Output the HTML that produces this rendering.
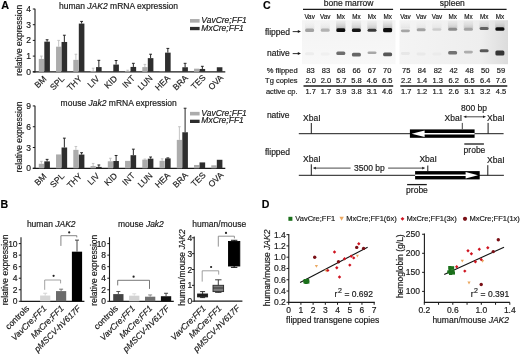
<!DOCTYPE html>
<html><head><meta charset="utf-8"><style>
html,body{margin:0;padding:0;background:#fff;}
body{width:520px;height:354px;overflow:hidden;}
svg{display:block;filter:blur(0.3px);font-family:"Liberation Sans",sans-serif;font-size:8.5px;fill:#1a1a1a;}
text{stroke:#1a1a1a;stroke-width:0.18px;}
</style></head><body>
<svg width="520" height="354" viewBox="0 0 520 354">
<rect width="520" height="354" fill="#fff"/>
<text x="1.3" y="9.4" font-size="10.8" fill="#000" font-weight="bold">A</text>
<text x="0.5" y="207.9" font-size="10.6" fill="#000" font-weight="bold">B</text>
<text x="262.9" y="8.95" font-size="10.6" fill="#000" font-weight="bold">C</text>
<text x="261.7" y="208" font-size="10.6" fill="#000" font-weight="bold">D</text>
<text x="59" y="9">human <tspan font-style="italic">JAK2</tspan> mRNA expression</text>
<line x1="35" y1="8.7" x2="35" y2="72.4" stroke="#1a1a1a" stroke-width="1.1"/>
<line x1="32.8" y1="71.8" x2="35" y2="71.8" stroke="#1a1a1a" stroke-width="1"/>
<text x="30.9" y="74.8" text-anchor="end">0</text>
<line x1="32.8" y1="56.1" x2="35" y2="56.1" stroke="#1a1a1a" stroke-width="1"/>
<text x="30.9" y="59.1" text-anchor="end">1</text>
<line x1="32.8" y1="40.4" x2="35" y2="40.4" stroke="#1a1a1a" stroke-width="1"/>
<text x="30.9" y="43.4" text-anchor="end">2</text>
<line x1="32.8" y1="24.7" x2="35" y2="24.7" stroke="#1a1a1a" stroke-width="1"/>
<text x="30.9" y="27.7" text-anchor="end">3</text>
<line x1="32.8" y1="9" x2="35" y2="9" stroke="#1a1a1a" stroke-width="1"/>
<text x="30.9" y="12" text-anchor="end">4</text>
<line x1="32.8" y1="71.8" x2="225.3" y2="71.8" stroke="#1a1a1a" stroke-width="1.2"/>
<text x="21.6" y="40.25" text-anchor="middle" transform="rotate(-90 21.6 40.25)">relative expression</text>
<rect x="38.8" y="58.93" width="5.2" height="12.87" fill="#acacac"/>
<line x1="41.4" y1="56.1" x2="41.4" y2="58.93" stroke="#bdbdbd" stroke-width="0.9"/>
<line x1="40.1" y1="56.1" x2="42.7" y2="56.1" stroke="#bdbdbd" stroke-width="0.9"/>
<rect x="44.3" y="41.66" width="5.6" height="30.14" fill="#2e2e2e"/>
<line x1="47.1" y1="39.77" x2="47.1" y2="41.66" stroke="#262626" stroke-width="1"/>
<line x1="45.7" y1="39.77" x2="48.5" y2="39.77" stroke="#262626" stroke-width="1"/>
<rect x="56.05" y="46.68" width="5.2" height="25.12" fill="#acacac"/>
<line x1="58.65" y1="40.4" x2="58.65" y2="46.68" stroke="#bdbdbd" stroke-width="0.9"/>
<line x1="57.35" y1="40.4" x2="59.95" y2="40.4" stroke="#bdbdbd" stroke-width="0.9"/>
<rect x="61.55" y="41.97" width="5.6" height="29.83" fill="#2e2e2e"/>
<line x1="64.35" y1="35.22" x2="64.35" y2="41.97" stroke="#262626" stroke-width="1"/>
<line x1="62.95" y1="35.22" x2="65.75" y2="35.22" stroke="#262626" stroke-width="1"/>
<rect x="73.3" y="59.87" width="5.2" height="11.93" fill="#acacac"/>
<line x1="75.9" y1="54.22" x2="75.9" y2="59.87" stroke="#bdbdbd" stroke-width="0.9"/>
<line x1="74.6" y1="54.22" x2="77.2" y2="54.22" stroke="#bdbdbd" stroke-width="0.9"/>
<rect x="78.8" y="23.6" width="5.6" height="48.2" fill="#2e2e2e"/>
<line x1="81.6" y1="21.4" x2="81.6" y2="23.6" stroke="#262626" stroke-width="1"/>
<line x1="80.2" y1="21.4" x2="83" y2="21.4" stroke="#262626" stroke-width="1"/>
<rect x="90.55" y="71.02" width="5.2" height="0.79" fill="#acacac"/>
<line x1="93.15" y1="68.19" x2="93.15" y2="71.02" stroke="#bdbdbd" stroke-width="0.9"/>
<line x1="91.85" y1="68.19" x2="94.45" y2="68.19" stroke="#bdbdbd" stroke-width="0.9"/>
<rect x="96.05" y="67.09" width="5.6" height="4.71" fill="#2e2e2e"/>
<line x1="98.85" y1="60.34" x2="98.85" y2="67.09" stroke="#262626" stroke-width="1"/>
<line x1="97.45" y1="60.34" x2="100.25" y2="60.34" stroke="#262626" stroke-width="1"/>
<rect x="113.3" y="64.58" width="5.6" height="7.22" fill="#2e2e2e"/>
<line x1="116.1" y1="60.5" x2="116.1" y2="64.58" stroke="#262626" stroke-width="1"/>
<line x1="114.7" y1="60.5" x2="117.5" y2="60.5" stroke="#262626" stroke-width="1"/>
<rect x="125.05" y="71.02" width="5.2" height="0.79" fill="#acacac"/>
<line x1="127.65" y1="70.23" x2="127.65" y2="71.02" stroke="#bdbdbd" stroke-width="0.9"/>
<line x1="126.35" y1="70.23" x2="128.95" y2="70.23" stroke="#bdbdbd" stroke-width="0.9"/>
<rect x="130.55" y="66.93" width="5.6" height="4.87" fill="#2e2e2e"/>
<line x1="133.35" y1="63.32" x2="133.35" y2="66.93" stroke="#262626" stroke-width="1"/>
<line x1="131.95" y1="63.32" x2="134.75" y2="63.32" stroke="#262626" stroke-width="1"/>
<rect x="142.3" y="67.09" width="5.2" height="4.71" fill="#acacac"/>
<line x1="144.9" y1="64.42" x2="144.9" y2="67.09" stroke="#bdbdbd" stroke-width="0.9"/>
<line x1="143.6" y1="64.42" x2="146.2" y2="64.42" stroke="#bdbdbd" stroke-width="0.9"/>
<rect x="147.8" y="58.14" width="5.6" height="13.66" fill="#2e2e2e"/>
<line x1="150.6" y1="54.22" x2="150.6" y2="58.14" stroke="#262626" stroke-width="1"/>
<line x1="149.2" y1="54.22" x2="152" y2="54.22" stroke="#262626" stroke-width="1"/>
<rect x="159.55" y="71.49" width="5.2" height="0.31" fill="#acacac"/>
<rect x="165.05" y="52.65" width="5.6" height="19.15" fill="#2e2e2e"/>
<line x1="167.85" y1="48.41" x2="167.85" y2="52.65" stroke="#262626" stroke-width="1"/>
<line x1="166.45" y1="48.41" x2="169.25" y2="48.41" stroke="#262626" stroke-width="1"/>
<rect x="182.3" y="67.25" width="5.6" height="4.55" fill="#2e2e2e"/>
<line x1="185.1" y1="63.32" x2="185.1" y2="67.25" stroke="#262626" stroke-width="1"/>
<line x1="183.7" y1="63.32" x2="186.5" y2="63.32" stroke="#262626" stroke-width="1"/>
<rect x="194.05" y="68.66" width="5.2" height="3.14" fill="#acacac"/>
<rect x="199.55" y="68.97" width="5.6" height="2.83" fill="#2e2e2e"/>
<line x1="202.35" y1="66.3" x2="202.35" y2="68.97" stroke="#262626" stroke-width="1"/>
<line x1="200.95" y1="66.3" x2="203.75" y2="66.3" stroke="#262626" stroke-width="1"/>
<rect x="216.8" y="67.25" width="5.6" height="4.55" fill="#2e2e2e"/>
<text x="47.1" y="79.6" text-anchor="end" transform="rotate(-45 47.1 79.6)">BM</text>
<text x="64.78" y="79.46" text-anchor="end" transform="rotate(-45 64.78 79.46)">SPL</text>
<text x="82.46" y="79.32" text-anchor="end" transform="rotate(-45 82.46 79.32)">THY</text>
<text x="100.14" y="79.18" text-anchor="end" transform="rotate(-45 100.14 79.18)">LIV</text>
<text x="117.82" y="79.04" text-anchor="end" transform="rotate(-45 117.82 79.04)">KID</text>
<text x="135.5" y="78.9" text-anchor="end" transform="rotate(-45 135.5 78.9)">INT</text>
<text x="153.18" y="78.76" text-anchor="end" transform="rotate(-45 153.18 78.76)">LUN</text>
<text x="170.86" y="78.62" text-anchor="end" transform="rotate(-45 170.86 78.62)">HEA</text>
<text x="188.54" y="78.48" text-anchor="end" transform="rotate(-45 188.54 78.48)">BRA</text>
<text x="206.22" y="78.34" text-anchor="end" transform="rotate(-45 206.22 78.34)">TES</text>
<text x="223.9" y="78.2" text-anchor="end" transform="rotate(-45 223.9 78.2)">OVA</text>
<rect x="190" y="19.05" width="9.6" height="3.6" fill="#acacac"/>
<rect x="190" y="26.9" width="9.6" height="3.3" fill="#2e2e2e"/>
<text x="201.3" y="22.8" font-style="italic">VavCre;FF1</text>
<text x="201.3" y="30.5" font-style="italic">MxCre;FF1</text>
<text x="60.6" y="105.8">mouse <tspan font-style="italic">Jak2</tspan> mRNA expression</text>
<line x1="35" y1="105.63" x2="35" y2="168.9" stroke="#1a1a1a" stroke-width="1.1"/>
<line x1="32.8" y1="168.3" x2="35" y2="168.3" stroke="#1a1a1a" stroke-width="1"/>
<text x="30.9" y="171.3" text-anchor="end">0</text>
<line x1="32.8" y1="147.51" x2="35" y2="147.51" stroke="#1a1a1a" stroke-width="1"/>
<text x="30.9" y="150.51" text-anchor="end">3</text>
<line x1="32.8" y1="126.72" x2="35" y2="126.72" stroke="#1a1a1a" stroke-width="1"/>
<text x="30.9" y="129.72" text-anchor="end">6</text>
<line x1="32.8" y1="105.93" x2="35" y2="105.93" stroke="#1a1a1a" stroke-width="1"/>
<text x="30.9" y="108.93" text-anchor="end">9</text>
<line x1="32.8" y1="168.3" x2="225.3" y2="168.3" stroke="#1a1a1a" stroke-width="1.2"/>
<text x="21.6" y="137" text-anchor="middle" transform="rotate(-90 21.6 137)">relative expression</text>
<rect x="38.8" y="163.8" width="5.2" height="4.5" fill="#acacac"/>
<line x1="41.4" y1="161.37" x2="41.4" y2="163.8" stroke="#bdbdbd" stroke-width="0.9"/>
<line x1="40.1" y1="161.37" x2="42.7" y2="161.37" stroke="#bdbdbd" stroke-width="0.9"/>
<rect x="44.3" y="161.37" width="5.6" height="6.93" fill="#2e2e2e"/>
<line x1="47.1" y1="159.36" x2="47.1" y2="161.37" stroke="#262626" stroke-width="1"/>
<line x1="45.7" y1="159.36" x2="48.5" y2="159.36" stroke="#262626" stroke-width="1"/>
<rect x="56.05" y="154.44" width="5.2" height="13.86" fill="#acacac"/>
<rect x="61.55" y="147.51" width="5.6" height="20.79" fill="#2e2e2e"/>
<line x1="64.35" y1="138.15" x2="64.35" y2="147.51" stroke="#262626" stroke-width="1"/>
<line x1="62.95" y1="138.15" x2="65.75" y2="138.15" stroke="#262626" stroke-width="1"/>
<rect x="73.3" y="149.87" width="5.2" height="18.43" fill="#acacac"/>
<line x1="75.9" y1="146.47" x2="75.9" y2="149.87" stroke="#bdbdbd" stroke-width="0.9"/>
<line x1="74.6" y1="146.47" x2="77.2" y2="146.47" stroke="#bdbdbd" stroke-width="0.9"/>
<rect x="78.8" y="154.58" width="5.6" height="13.72" fill="#2e2e2e"/>
<line x1="81.6" y1="152.71" x2="81.6" y2="154.58" stroke="#262626" stroke-width="1"/>
<line x1="80.2" y1="152.71" x2="83" y2="152.71" stroke="#262626" stroke-width="1"/>
<rect x="90.55" y="166.01" width="5.2" height="2.29" fill="#acacac"/>
<line x1="93.15" y1="163.45" x2="93.15" y2="166.01" stroke="#bdbdbd" stroke-width="0.9"/>
<line x1="91.85" y1="163.45" x2="94.45" y2="163.45" stroke="#bdbdbd" stroke-width="0.9"/>
<rect x="96.05" y="166.91" width="5.6" height="1.39" fill="#2e2e2e"/>
<line x1="98.85" y1="164.97" x2="98.85" y2="166.91" stroke="#262626" stroke-width="1"/>
<line x1="97.45" y1="164.97" x2="100.25" y2="164.97" stroke="#262626" stroke-width="1"/>
<rect x="107.8" y="161.3" width="5.2" height="7" fill="#acacac"/>
<line x1="110.4" y1="158.25" x2="110.4" y2="161.3" stroke="#bdbdbd" stroke-width="0.9"/>
<line x1="109.1" y1="158.25" x2="111.7" y2="158.25" stroke="#bdbdbd" stroke-width="0.9"/>
<rect x="113.3" y="161.02" width="5.6" height="7.28" fill="#2e2e2e"/>
<line x1="116.1" y1="155.48" x2="116.1" y2="161.02" stroke="#262626" stroke-width="1"/>
<line x1="114.7" y1="155.48" x2="117.5" y2="155.48" stroke="#262626" stroke-width="1"/>
<rect x="125.05" y="160.88" width="5.2" height="7.42" fill="#acacac"/>
<rect x="130.55" y="155.2" width="5.6" height="13.1" fill="#2e2e2e"/>
<line x1="133.35" y1="149.17" x2="133.35" y2="155.2" stroke="#262626" stroke-width="1"/>
<line x1="131.95" y1="149.17" x2="134.75" y2="149.17" stroke="#262626" stroke-width="1"/>
<rect x="142.3" y="159.64" width="5.2" height="8.66" fill="#acacac"/>
<line x1="144.9" y1="159.08" x2="144.9" y2="159.64" stroke="#bdbdbd" stroke-width="0.9"/>
<line x1="143.6" y1="159.08" x2="146.2" y2="159.08" stroke="#bdbdbd" stroke-width="0.9"/>
<rect x="147.8" y="158.67" width="5.6" height="9.63" fill="#2e2e2e"/>
<line x1="150.6" y1="157" x2="150.6" y2="158.67" stroke="#262626" stroke-width="1"/>
<line x1="149.2" y1="157" x2="152" y2="157" stroke="#262626" stroke-width="1"/>
<rect x="159.55" y="160.82" width="5.2" height="7.48" fill="#acacac"/>
<line x1="162.15" y1="158.81" x2="162.15" y2="160.82" stroke="#bdbdbd" stroke-width="0.9"/>
<line x1="160.85" y1="158.81" x2="163.45" y2="158.81" stroke="#bdbdbd" stroke-width="0.9"/>
<rect x="165.05" y="158.39" width="5.6" height="9.91" fill="#2e2e2e"/>
<line x1="167.85" y1="157.91" x2="167.85" y2="158.39" stroke="#262626" stroke-width="1"/>
<line x1="166.45" y1="157.91" x2="169.25" y2="157.91" stroke="#262626" stroke-width="1"/>
<rect x="176.8" y="139.89" width="5.2" height="28.41" fill="#acacac"/>
<line x1="179.4" y1="126.72" x2="179.4" y2="139.89" stroke="#bdbdbd" stroke-width="0.9"/>
<line x1="178.1" y1="126.72" x2="180.7" y2="126.72" stroke="#bdbdbd" stroke-width="0.9"/>
<rect x="182.3" y="132.26" width="5.6" height="36.04" fill="#2e2e2e"/>
<line x1="185.1" y1="108.22" x2="185.1" y2="132.26" stroke="#262626" stroke-width="1"/>
<line x1="183.7" y1="108.22" x2="186.5" y2="108.22" stroke="#262626" stroke-width="1"/>
<rect x="194.05" y="164.97" width="5.2" height="3.33" fill="#acacac"/>
<rect x="199.55" y="162.41" width="5.6" height="5.89" fill="#2e2e2e"/>
<rect x="211.3" y="165.32" width="5.2" height="2.98" fill="#acacac"/>
<rect x="216.8" y="159.78" width="5.6" height="8.52" fill="#2e2e2e"/>
<text x="47.1" y="176.9" text-anchor="end" transform="rotate(-45 47.1 176.9)">BM</text>
<text x="64.78" y="176.76" text-anchor="end" transform="rotate(-45 64.78 176.76)">SPL</text>
<text x="82.46" y="176.62" text-anchor="end" transform="rotate(-45 82.46 176.62)">THY</text>
<text x="100.14" y="176.48" text-anchor="end" transform="rotate(-45 100.14 176.48)">LIV</text>
<text x="117.82" y="176.34" text-anchor="end" transform="rotate(-45 117.82 176.34)">KID</text>
<text x="135.5" y="176.2" text-anchor="end" transform="rotate(-45 135.5 176.2)">INT</text>
<text x="153.18" y="176.06" text-anchor="end" transform="rotate(-45 153.18 176.06)">LUN</text>
<text x="170.86" y="175.92" text-anchor="end" transform="rotate(-45 170.86 175.92)">HEA</text>
<text x="188.54" y="175.78" text-anchor="end" transform="rotate(-45 188.54 175.78)">BRA</text>
<text x="206.22" y="175.64" text-anchor="end" transform="rotate(-45 206.22 175.64)">TES</text>
<text x="223.9" y="175.5" text-anchor="end" transform="rotate(-45 223.9 175.5)">OVA</text>
<rect x="190" y="111.85" width="9.6" height="3.6" fill="#acacac"/>
<rect x="190" y="119.7" width="9.6" height="3.3" fill="#2e2e2e"/>
<text x="201.3" y="115.6" font-style="italic">VavCre;FF1</text>
<text x="201.3" y="123.3" font-style="italic">MxCre;FF1</text>
<text x="26.9" y="227.2">human <tspan font-style="italic">JAK2</tspan></text>
<line x1="21" y1="237.23" x2="21" y2="301.9" stroke="#1a1a1a" stroke-width="1.1"/>
<line x1="18.8" y1="301.3" x2="21" y2="301.3" stroke="#1a1a1a" stroke-width="1"/>
<text x="17.6" y="304.3" text-anchor="end">0</text>
<line x1="18.8" y1="289.76" x2="21" y2="289.76" stroke="#1a1a1a" stroke-width="1"/>
<text x="17.6" y="292.76" text-anchor="end">2</text>
<line x1="18.8" y1="278.22" x2="21" y2="278.22" stroke="#1a1a1a" stroke-width="1"/>
<text x="17.6" y="281.22" text-anchor="end">4</text>
<line x1="18.8" y1="266.68" x2="21" y2="266.68" stroke="#1a1a1a" stroke-width="1"/>
<text x="17.6" y="269.68" text-anchor="end">6</text>
<line x1="18.8" y1="255.14" x2="21" y2="255.14" stroke="#1a1a1a" stroke-width="1"/>
<text x="17.6" y="258.14" text-anchor="end">8</text>
<line x1="18.8" y1="243.6" x2="21" y2="243.6" stroke="#1a1a1a" stroke-width="1"/>
<text x="17.6" y="246.6" text-anchor="end">10</text>
<line x1="21" y1="301.3" x2="84.4" y2="301.3" stroke="#1a1a1a" stroke-width="1.2"/>
<text x="7.9" y="269.9" text-anchor="middle" transform="rotate(-90 7.9 269.9)">relative expression</text>
<text x="118" y="227.2">mouse <tspan font-style="italic">Jak2</tspan></text>
<line x1="109.5" y1="237.23" x2="109.5" y2="301.9" stroke="#1a1a1a" stroke-width="1.1"/>
<line x1="107.3" y1="301.3" x2="109.5" y2="301.3" stroke="#1a1a1a" stroke-width="1"/>
<text x="106.1" y="304.3" text-anchor="end">0</text>
<line x1="107.3" y1="289.76" x2="109.5" y2="289.76" stroke="#1a1a1a" stroke-width="1"/>
<text x="106.1" y="292.76" text-anchor="end">2</text>
<line x1="107.3" y1="278.22" x2="109.5" y2="278.22" stroke="#1a1a1a" stroke-width="1"/>
<text x="106.1" y="281.22" text-anchor="end">4</text>
<line x1="107.3" y1="266.68" x2="109.5" y2="266.68" stroke="#1a1a1a" stroke-width="1"/>
<text x="106.1" y="269.68" text-anchor="end">6</text>
<line x1="107.3" y1="255.14" x2="109.5" y2="255.14" stroke="#1a1a1a" stroke-width="1"/>
<text x="106.1" y="258.14" text-anchor="end">8</text>
<line x1="107.3" y1="243.6" x2="109.5" y2="243.6" stroke="#1a1a1a" stroke-width="1"/>
<text x="106.1" y="246.6" text-anchor="end">10</text>
<line x1="109.5" y1="301.3" x2="173.8" y2="301.3" stroke="#1a1a1a" stroke-width="1.2"/>
<text x="96.6" y="270.2" text-anchor="middle" transform="rotate(-90 96.6 270.2)">relative expression</text>
<text x="192.3" y="226.8">human/mouse</text>
<line x1="194.2" y1="236.41" x2="194.2" y2="301.8" stroke="#1a1a1a" stroke-width="1.1"/>
<line x1="192" y1="301.2" x2="194.2" y2="301.2" stroke="#1a1a1a" stroke-width="1"/>
<text x="192.2" y="304.2" text-anchor="end">0</text>
<line x1="192" y1="285.35" x2="194.2" y2="285.35" stroke="#1a1a1a" stroke-width="1"/>
<text x="192.2" y="288.35" text-anchor="end">1</text>
<line x1="192" y1="269.5" x2="194.2" y2="269.5" stroke="#1a1a1a" stroke-width="1"/>
<text x="192.2" y="272.5" text-anchor="end">2</text>
<line x1="192" y1="253.65" x2="194.2" y2="253.65" stroke="#1a1a1a" stroke-width="1"/>
<text x="192.2" y="256.65" text-anchor="end">3</text>
<line x1="192" y1="237.8" x2="194.2" y2="237.8" stroke="#1a1a1a" stroke-width="1"/>
<text x="192.2" y="240.8" text-anchor="end">4</text>
<line x1="194.2" y1="301.2" x2="242.4" y2="301.2" stroke="#1a1a1a" stroke-width="1.2"/>
<text x="184.6" y="267.5" text-anchor="middle" transform="rotate(-90 184.6 267.5)">human/mouse <tspan font-style="italic">JAK2</tspan></text>
<rect x="40.1" y="295.53" width="10.2" height="5.77" fill="#d6d6d6"/>
<line x1="45.2" y1="293.22" x2="45.2" y2="295.53" stroke="#cfcfcf" stroke-width="0.9"/>
<line x1="43.2" y1="293.22" x2="47.2" y2="293.22" stroke="#cfcfcf" stroke-width="0.9"/>
<rect x="56" y="291.09" width="10.2" height="10.21" fill="#6b6b6b"/>
<line x1="61.1" y1="289.18" x2="61.1" y2="291.09" stroke="#6b6b6b" stroke-width="0.9"/>
<line x1="59.1" y1="289.18" x2="63.1" y2="289.18" stroke="#6b6b6b" stroke-width="0.9"/>
<rect x="71.9" y="251.68" width="10.2" height="49.62" fill="#000"/>
<line x1="77" y1="240.14" x2="77" y2="251.68" stroke="#333" stroke-width="0.9"/>
<line x1="75" y1="240.14" x2="79" y2="240.14" stroke="#333" stroke-width="0.9"/>
<rect x="113.2" y="294.09" width="10.3" height="7.21" fill="#444"/>
<line x1="118.35" y1="291.49" x2="118.35" y2="294.09" stroke="#444" stroke-width="0.9"/>
<line x1="116.35" y1="291.49" x2="120.35" y2="291.49" stroke="#444" stroke-width="0.9"/>
<rect x="129.1" y="295.7" width="10.3" height="5.6" fill="#d2d2d2"/>
<line x1="134.25" y1="293.8" x2="134.25" y2="295.7" stroke="#d8d8d8" stroke-width="0.9"/>
<line x1="132.25" y1="293.8" x2="136.25" y2="293.8" stroke="#d8d8d8" stroke-width="0.9"/>
<rect x="145" y="296.68" width="10.3" height="4.62" fill="#707070"/>
<line x1="150.15" y1="294.95" x2="150.15" y2="296.68" stroke="#808080" stroke-width="0.9"/>
<line x1="148.15" y1="294.95" x2="152.15" y2="294.95" stroke="#808080" stroke-width="0.9"/>
<rect x="160.9" y="296.22" width="10.3" height="5.08" fill="#111"/>
<line x1="166.05" y1="293.28" x2="166.05" y2="296.22" stroke="#333" stroke-width="0.9"/>
<line x1="164.05" y1="293.28" x2="168.05" y2="293.28" stroke="#333" stroke-width="0.9"/>
<polyline points="44.7,289.8 44.7,280 60.6,280 60.6,283.4" fill="none" stroke="#8a8a8a" stroke-width="0.8"/>
<circle cx="53.6" cy="275.8" r="1.1" fill="#222"/>
<polyline points="60.9,245.9 60.9,235.7 76.8,235.7 76.8,237.4" fill="none" stroke="#666" stroke-width="0.8"/>
<circle cx="69.2" cy="232.4" r="1.1" fill="#222"/>
<polyline points="117.7,285.4 117.7,280.3 149.5,280.3 149.5,288.9" fill="none" stroke="#555" stroke-width="0.8"/>
<circle cx="133.6" cy="276.7" r="1.1" fill="#222"/>
<polyline points="202.2,281.6 202.2,270.8 218.7,270.8 218.7,274.6" fill="none" stroke="#888" stroke-width="0.8"/>
<circle cx="211.1" cy="267" r="1.1" fill="#222"/>
<polyline points="218.3,246.6 218.3,236.2 234.4,236.2 234.4,238.4" fill="none" stroke="#777" stroke-width="0.8"/>
<circle cx="226" cy="232.9" r="1.1" fill="#222"/>
<line x1="202.6" y1="291.6" x2="202.6" y2="294" stroke="#1e1e1e" stroke-width="0.9"/>
<line x1="202.6" y1="296.9" x2="202.6" y2="297.6" stroke="#1e1e1e" stroke-width="0.9"/>
<line x1="200.1" y1="291.6" x2="205.1" y2="291.6" stroke="#1e1e1e" stroke-width="0.9"/>
<line x1="200.1" y1="297.6" x2="205.1" y2="297.6" stroke="#1e1e1e" stroke-width="0.9"/>
<rect x="197.6" y="294" width="10" height="2.9" fill="#1e1e1e" stroke="#1e1e1e" stroke-width="0.9"/>
<line x1="218.3" y1="279.8" x2="218.3" y2="285.3" stroke="#2a2a2a" stroke-width="0.9"/>
<line x1="218.3" y1="291.6" x2="218.3" y2="292.4" stroke="#2a2a2a" stroke-width="0.9"/>
<line x1="215.1" y1="279.8" x2="221.5" y2="279.8" stroke="#2a2a2a" stroke-width="0.9"/>
<line x1="215.1" y1="292.4" x2="221.5" y2="292.4" stroke="#2a2a2a" stroke-width="0.9"/>
<rect x="213" y="285.3" width="10.6" height="6.3" fill="#7c7c7c" stroke="#2a2a2a" stroke-width="0.9"/>
<line x1="213" y1="288" x2="223.6" y2="288" stroke="#2a2a2a" stroke-width="0.9"/>
<line x1="234.15" y1="240.3" x2="234.15" y2="241.5" stroke="#000" stroke-width="0.9"/>
<line x1="234.15" y1="266" x2="234.15" y2="267.4" stroke="#000" stroke-width="0.9"/>
<line x1="230.95" y1="240.3" x2="237.35" y2="240.3" stroke="#000" stroke-width="0.9"/>
<line x1="230.95" y1="267.4" x2="237.35" y2="267.4" stroke="#000" stroke-width="0.9"/>
<rect x="228.5" y="241.5" width="11.3" height="24.5" fill="#000" stroke="#000" stroke-width="0.9"/>
<text x="29.8" y="309" text-anchor="end" transform="rotate(-45 29.8 309)">controls</text>
<text x="47" y="309" text-anchor="end" font-style="italic" transform="rotate(-45 47 309)">VavCre;FF1</text>
<text x="64.3" y="309" text-anchor="end" font-style="italic" transform="rotate(-45 64.3 309)">MxCre;FF1</text>
<text x="81.3" y="309" text-anchor="end" font-style="italic" transform="rotate(-45 81.3 309)">pMSCV-hV617F</text>
<text x="118.4" y="309" text-anchor="end" transform="rotate(-45 118.4 309)">controls</text>
<text x="135.6" y="309" text-anchor="end" font-style="italic" transform="rotate(-45 135.6 309)">VavCre;FF1</text>
<text x="152.9" y="309" text-anchor="end" font-style="italic" transform="rotate(-45 152.9 309)">MxCre;FF1</text>
<text x="169.9" y="309" text-anchor="end" font-style="italic" transform="rotate(-45 169.9 309)">pMSCV-hV617F</text>
<text x="206.4" y="308.8" text-anchor="end" font-style="italic" transform="rotate(-45 206.4 308.8)">VavCre;FF1</text>
<text x="222.2" y="308.8" text-anchor="end" font-style="italic" transform="rotate(-45 222.2 308.8)">MxCre;FF1</text>
<text x="240.4" y="308.8" text-anchor="end" font-style="italic" transform="rotate(-45 240.4 308.8)">pMSCV-hV617F</text>
<defs><linearGradient id="gbm" x1="0" y1="0" x2="0" y2="1"><stop offset="0" stop-color="#f4f4f4"/><stop offset="1" stop-color="#f8f8f8"/></linearGradient><linearGradient id="gsp" x1="0" y1="0" x2="1" y2="0"><stop offset="0" stop-color="#f4f4f4"/><stop offset="0.75" stop-color="#eeeeee"/><stop offset="1" stop-color="#dcdcdc"/></linearGradient><filter id="bl" x="-50%" y="-50%" width="200%" height="200%"><feGaussianBlur stdDeviation="0.7"/></filter><linearGradient id="smL" x1="0" y1="0" x2="0" y2="1"><stop offset="0" stop-color="#eee" stop-opacity="0"/><stop offset="1" stop-color="#e4e4e4"/></linearGradient><linearGradient id="smM" x1="0" y1="0" x2="0" y2="1"><stop offset="0" stop-color="#ddd" stop-opacity="0.2"/><stop offset="1" stop-color="#c6c6c6"/></linearGradient><linearGradient id="smD" x1="0" y1="0" x2="0" y2="1"><stop offset="0" stop-color="#ddd" stop-opacity="0.3"/><stop offset="1" stop-color="#b4b4b4"/></linearGradient><filter id="bl2" x="-50%" y="-50%" width="200%" height="200%"><feGaussianBlur stdDeviation="1.4"/></filter></defs>
<rect x="302" y="20.2" width="93.5" height="44" fill="url(#gbm)"/>
<rect x="399.5" y="20.2" width="108.5" height="44" fill="url(#gsp)"/>
<text x="323.75" y="6">bone marrow</text>
<text x="439.8" y="6">spleen</text>
<line x1="303" y1="9.4" x2="393.1" y2="9.4" stroke="#1a1a1a" stroke-width="1.2"/>
<line x1="400" y1="9.4" x2="506.6" y2="9.4" stroke="#1a1a1a" stroke-width="1.2"/>
<text x="309.6" y="18.8" text-anchor="middle" font-size="6.3">Vav</text>
<text x="325.2" y="18.8" text-anchor="middle" font-size="6.3">Vav</text>
<text x="340.8" y="18.8" text-anchor="middle" font-size="6.3">Mx</text>
<text x="356.4" y="18.8" text-anchor="middle" font-size="6.3">Mx</text>
<text x="372" y="18.8" text-anchor="middle" font-size="6.3">Mx</text>
<text x="387.6" y="18.8" text-anchor="middle" font-size="6.3">Mx</text>
<text x="405.4" y="18.8" text-anchor="middle" font-size="6.3">Vav</text>
<text x="421.15" y="18.8" text-anchor="middle" font-size="6.3">Vav</text>
<text x="436.9" y="18.8" text-anchor="middle" font-size="6.3">Vav</text>
<text x="452.65" y="18.8" text-anchor="middle" font-size="6.3">Mx</text>
<text x="468.4" y="18.8" text-anchor="middle" font-size="6.3">Mx</text>
<text x="484.15" y="18.8" text-anchor="middle" font-size="6.3">Mx</text>
<text x="499.9" y="18.8" text-anchor="middle" font-size="6.3">Mx</text>
<rect x="304.9" y="20.4" width="9.4" height="8.6" fill="url(#smL)" filter="url(#bl)"/>
<rect x="320.5" y="20.4" width="9.4" height="8.6" fill="url(#smL)" filter="url(#bl)"/>
<rect x="336.1" y="20.4" width="9.4" height="8.6" fill="url(#smD)" filter="url(#bl)"/>
<rect x="351.7" y="20.4" width="9.4" height="8.6" fill="url(#smM)" filter="url(#bl)"/>
<rect x="367.3" y="20.4" width="9.4" height="8.6" fill="url(#smM)" filter="url(#bl)"/>
<rect x="382.9" y="20.4" width="9.4" height="8.6" fill="url(#smD)" filter="url(#bl)"/>
<rect x="400.7" y="20.4" width="9.4" height="8.1" fill="url(#smL)" filter="url(#bl)"/>
<rect x="416.45" y="20.4" width="9.4" height="8.1" fill="url(#smL)" filter="url(#bl)"/>
<rect x="432.2" y="20.4" width="9.4" height="8.1" fill="url(#smL)" filter="url(#bl)"/>
<rect x="447.95" y="20.4" width="9.4" height="8.1" fill="url(#smM)" filter="url(#bl)"/>
<rect x="463.7" y="20.4" width="9.4" height="8.1" fill="url(#smM)" filter="url(#bl)"/>
<rect x="479.45" y="20.4" width="9.4" height="8.1" fill="url(#smM)" filter="url(#bl)"/>
<rect x="495.2" y="20.4" width="9.4" height="8.1" fill="url(#smD)" filter="url(#bl)"/>
<rect x="305.1" y="28.5" width="9" height="3.4" rx="1.5" fill="#a2a2a2" filter="url(#bl)"/>
<rect x="320.7" y="28.6" width="9" height="3.2" rx="1.5" fill="#b2b2b2" filter="url(#bl)"/>
<rect x="336.3" y="28.3" width="9" height="3.8" rx="1.5" fill="#0e0e0e" filter="url(#bl)"/>
<rect x="351.9" y="28.5" width="9" height="3.4" rx="1.5" fill="#161616" filter="url(#bl)"/>
<rect x="367.5" y="28.7" width="9" height="3" rx="1.5" fill="#383838" filter="url(#bl)"/>
<rect x="383.1" y="28.1" width="9" height="4.2" rx="1.5" fill="#080808" filter="url(#bl)"/>
<rect x="305.1" y="52.3" width="9" height="3" rx="1.5" fill="#ededed" filter="url(#bl)"/>
<rect x="320.7" y="52.5" width="9" height="3" rx="1.5" fill="#f0f0f0" filter="url(#bl)"/>
<rect x="336.3" y="51.4" width="9" height="3.6" rx="1.5" fill="#6e6e6e" filter="url(#bl)"/>
<rect x="351.9" y="52.8" width="9" height="3.6" rx="1.5" fill="#666666" filter="url(#bl)"/>
<rect x="367.5" y="51.4" width="9" height="2.6" rx="1.5" fill="#a8a8a8" filter="url(#bl)"/>
<rect x="383.1" y="52.4" width="9" height="3.8" rx="1.5" fill="#595959" filter="url(#bl)"/>
<rect x="400.9" y="29.4" width="9" height="2.8" rx="1.5" fill="#a6a6a6" filter="url(#bl)"/>
<rect x="416.65" y="28.3" width="9" height="3" rx="1.5" fill="#a2a2a2" filter="url(#bl)"/>
<rect x="432.4" y="28.2" width="9" height="2.6" rx="1.5" fill="#cdcdcd" filter="url(#bl)"/>
<rect x="448.15" y="27.7" width="9" height="3" rx="1.5" fill="#8c8c8c" filter="url(#bl)"/>
<rect x="463.9" y="27.8" width="9" height="3" rx="1.5" fill="#a4a4a4" filter="url(#bl)"/>
<rect x="479.65" y="27.1" width="9" height="3" rx="1.5" fill="#626262" filter="url(#bl)"/>
<rect x="495.4" y="27.2" width="9" height="3.6" rx="1.5" fill="#0c0c0c" filter="url(#bl)"/>
<rect x="400.9" y="52.1" width="9" height="2.8" rx="1.5" fill="#e7e7e7" filter="url(#bl)"/>
<rect x="416.65" y="52.6" width="9" height="2.8" rx="1.5" fill="#e9e9e9" filter="url(#bl)"/>
<rect x="432.4" y="52.6" width="9" height="2.8" rx="1.5" fill="#ebebeb" filter="url(#bl)"/>
<rect x="448.15" y="51" width="9" height="3.4" rx="1.5" fill="#737373" filter="url(#bl)"/>
<rect x="463.9" y="50.7" width="9" height="2.8" rx="1.5" fill="#adadad" filter="url(#bl)"/>
<rect x="479.65" y="49.3" width="9" height="3" rx="1.5" fill="#585858" filter="url(#bl)"/>
<rect x="495.4" y="50.6" width="9" height="4.8" rx="1.5" fill="#353535" filter="url(#bl)"/>
<text x="264.9" y="35">flipped</text>
<text x="267.1" y="56.1">native</text>
<line x1="292.7" y1="31.6" x2="298.3" y2="31.6" stroke="#1a1a1a" stroke-width="0.9"/>
<polygon points="301,31.6 297.8,30.1 297.8,33.1" fill="#1a1a1a"/>
<line x1="292.7" y1="53.6" x2="298.3" y2="53.6" stroke="#1a1a1a" stroke-width="0.9"/>
<polygon points="301,53.6 297.8,52.1 297.8,55.1" fill="#1a1a1a"/>
<text x="297.6" y="73" text-anchor="end" font-size="7.5">% flipped</text>
<text x="297.6" y="83.3" text-anchor="end" font-size="7.5">Tg copies</text>
<text x="297.6" y="93.5" text-anchor="end" font-size="7.5">active cp.</text>
<text x="310.6" y="73" text-anchor="middle" font-size="7.5">83</text>
<text x="310.6" y="83.3" text-anchor="middle" font-size="7.5">2.0</text>
<text x="310.6" y="93.5" text-anchor="middle" font-size="7.5">1.7</text>
<text x="325.93" y="73" text-anchor="middle" font-size="7.5">83</text>
<text x="325.93" y="83.3" text-anchor="middle" font-size="7.5">2.0</text>
<text x="325.93" y="93.5" text-anchor="middle" font-size="7.5">1.7</text>
<text x="341.26" y="73" text-anchor="middle" font-size="7.5">68</text>
<text x="341.26" y="83.3" text-anchor="middle" font-size="7.5">5.7</text>
<text x="341.26" y="93.5" text-anchor="middle" font-size="7.5">3.9</text>
<text x="356.59" y="73" text-anchor="middle" font-size="7.5">66</text>
<text x="356.59" y="83.3" text-anchor="middle" font-size="7.5">5.8</text>
<text x="356.59" y="93.5" text-anchor="middle" font-size="7.5">3.8</text>
<text x="371.92" y="73" text-anchor="middle" font-size="7.5">67</text>
<text x="371.92" y="83.3" text-anchor="middle" font-size="7.5">4.6</text>
<text x="371.92" y="93.5" text-anchor="middle" font-size="7.5">3.1</text>
<text x="387.25" y="73" text-anchor="middle" font-size="7.5">70</text>
<text x="387.25" y="83.3" text-anchor="middle" font-size="7.5">6.5</text>
<text x="387.25" y="93.5" text-anchor="middle" font-size="7.5">4.6</text>
<text x="406.2" y="73" text-anchor="middle" font-size="7.5">75</text>
<text x="406.2" y="83.3" text-anchor="middle" font-size="7.5">2.2</text>
<text x="406.2" y="93.5" text-anchor="middle" font-size="7.5">1.7</text>
<text x="422" y="73" text-anchor="middle" font-size="7.5">84</text>
<text x="422" y="83.3" text-anchor="middle" font-size="7.5">1.4</text>
<text x="422" y="93.5" text-anchor="middle" font-size="7.5">1.2</text>
<text x="437.8" y="73" text-anchor="middle" font-size="7.5">82</text>
<text x="437.8" y="83.3" text-anchor="middle" font-size="7.5">1.3</text>
<text x="437.8" y="93.5" text-anchor="middle" font-size="7.5">1.1</text>
<text x="453.6" y="73" text-anchor="middle" font-size="7.5">42</text>
<text x="453.6" y="83.3" text-anchor="middle" font-size="7.5">6.2</text>
<text x="453.6" y="93.5" text-anchor="middle" font-size="7.5">2.6</text>
<text x="469.4" y="73" text-anchor="middle" font-size="7.5">48</text>
<text x="469.4" y="83.3" text-anchor="middle" font-size="7.5">6.5</text>
<text x="469.4" y="93.5" text-anchor="middle" font-size="7.5">3.1</text>
<text x="485.2" y="73" text-anchor="middle" font-size="7.5">50</text>
<text x="485.2" y="83.3" text-anchor="middle" font-size="7.5">6.4</text>
<text x="485.2" y="93.5" text-anchor="middle" font-size="7.5">3.2</text>
<text x="501" y="73" text-anchor="middle" font-size="7.5">59</text>
<text x="501" y="83.3" text-anchor="middle" font-size="7.5">7.6</text>
<text x="501" y="93.5" text-anchor="middle" font-size="7.5">4.5</text>
<line x1="303.5" y1="86" x2="393.2" y2="86" stroke="#1a1a1a" stroke-width="1.3"/>
<line x1="400.3" y1="86" x2="507.3" y2="86" stroke="#1a1a1a" stroke-width="1.3"/>
<text x="266.9" y="118.1">native</text>
<text x="303.1" y="121.3">XbaI</text>
<line x1="311.3" y1="123" x2="311.3" y2="133.7" stroke="#1a1a1a" stroke-width="1"/>
<line x1="298.8" y1="133.7" x2="503.6" y2="133.7" stroke="#1a1a1a" stroke-width="1"/>
<rect x="409.9" y="129.4" width="64.7" height="8.4" fill="#000"/>
<line x1="424" y1="133.7" x2="474.6" y2="133.7" stroke="#fff" stroke-width="1.5"/>
<polygon points="411.6,133.7 424.6,130.5 424.6,136.9" fill="#fff"/>
<line x1="462.3" y1="122.9" x2="462.3" y2="129.4" stroke="#444" stroke-width="1"/>
<line x1="488.1" y1="122.9" x2="488.1" y2="133.7" stroke="#1a1a1a" stroke-width="1"/>
<text x="444.6" y="121">XbaI</text>
<text x="487.1" y="121">XbaI</text>
<text x="461" y="111.3">800 bp</text>
<line x1="465.5" y1="116.8" x2="483.8" y2="116.8" stroke="#1a1a1a" stroke-width="0.8"/>
<polygon points="463.3,116.8 466.3,115.5 466.3,118.1" fill="#1a1a1a"/>
<polygon points="486.0,116.8 483.0,115.5 483.0,118.1" fill="#1a1a1a"/>
<line x1="464.3" y1="144" x2="483.9" y2="144" stroke="#1a1a1a" stroke-width="1.3"/>
<text x="463.6" y="152.9">probe</text>
<text x="265" y="154.9">flipped</text>
<text x="303.1" y="162.1">XbaI</text>
<line x1="311.3" y1="164.3" x2="311.3" y2="175.3" stroke="#1a1a1a" stroke-width="1"/>
<line x1="298.8" y1="175.3" x2="503.9" y2="175.3" stroke="#1a1a1a" stroke-width="1"/>
<line x1="315.3" y1="168.1" x2="350.6" y2="168.1" stroke="#1a1a1a" stroke-width="0.8"/>
<polygon points="312.8,168.1 315.8,166.8 315.8,169.4" fill="#1a1a1a"/>
<text x="354" y="170.7">3500 bp</text>
<line x1="388.1" y1="168.1" x2="422.7" y2="168.1" stroke="#1a1a1a" stroke-width="0.8"/>
<polygon points="425.2,168.1 422.2,166.8 422.2,169.4" fill="#1a1a1a"/>
<text x="419.4" y="162.4">XbaI</text>
<line x1="427.8" y1="165.5" x2="427.8" y2="171.2" stroke="#1a1a1a" stroke-width="1"/>
<rect x="415.1" y="171.1" width="64.6" height="8.3" fill="#000"/>
<line x1="415.1" y1="175.3" x2="466" y2="175.3" stroke="#fff" stroke-width="1.5"/>
<polygon points="478.0,175.3 465.6,172.0 465.6,178.6" fill="#fff"/>
<line x1="487.8" y1="165.2" x2="487.8" y2="175.3" stroke="#1a1a1a" stroke-width="1"/>
<text x="487.1" y="162.5">XbaI</text>
<line x1="407.1" y1="184.6" x2="426.8" y2="184.6" stroke="#1a1a1a" stroke-width="1.3"/>
<text x="406.1" y="193">probe</text>
<rect x="288.4" y="216.8" width="4" height="4" fill="#1b701b"/>
<text x="295.3" y="221.3" font-size="7.5">VavCre;FF1</text>
<polygon points="339.4,216.84 343.8,216.84 341.6,220.8" fill="#eba861"/>
<text x="346.3" y="221.3" font-size="7.5">MxCre;FF1(6x)</text>
<polygon points="402.5,216.9 404.4,218.8 402.5,220.7 400.6,218.8" fill="#cf1420"/>
<text x="406.4" y="221.3" font-size="7.5">MxCre;FF1(3x)</text>
<circle cx="465" cy="218.8" r="2.1" fill="#7a1016"/>
<text x="469.4" y="221.3" font-size="7.5">MxCre;FF1(1x)</text>
<line x1="288.8" y1="234" x2="288.8" y2="303" stroke="#1a1a1a" stroke-width="1.1"/>
<line x1="286.5" y1="302.3" x2="288.8" y2="302.3" stroke="#1a1a1a" stroke-width="1"/>
<text x="285.8" y="305.3" text-anchor="end">0.2</text>
<line x1="286.5" y1="291.02" x2="288.8" y2="291.02" stroke="#1a1a1a" stroke-width="1"/>
<text x="285.8" y="294.02" text-anchor="end">0.4</text>
<line x1="286.5" y1="279.74" x2="288.8" y2="279.74" stroke="#1a1a1a" stroke-width="1"/>
<text x="285.8" y="282.74" text-anchor="end">0.6</text>
<line x1="286.5" y1="268.46" x2="288.8" y2="268.46" stroke="#1a1a1a" stroke-width="1"/>
<text x="285.8" y="271.46" text-anchor="end">0.8</text>
<line x1="286.5" y1="257.18" x2="288.8" y2="257.18" stroke="#1a1a1a" stroke-width="1"/>
<text x="285.8" y="260.18" text-anchor="end">1.0</text>
<line x1="286.5" y1="245.9" x2="288.8" y2="245.9" stroke="#1a1a1a" stroke-width="1"/>
<text x="285.8" y="248.9" text-anchor="end">1.2</text>
<line x1="286.5" y1="234.62" x2="288.8" y2="234.62" stroke="#1a1a1a" stroke-width="1"/>
<text x="285.8" y="237.62" text-anchor="end">1.4</text>
<line x1="288.8" y1="302.4" x2="374.8" y2="302.4" stroke="#1a1a1a" stroke-width="1.2"/>
<line x1="288.7" y1="302.4" x2="288.7" y2="304.8" stroke="#1a1a1a" stroke-width="1"/>
<text x="288.7" y="313.1" text-anchor="middle">0</text>
<line x1="300.91" y1="302.4" x2="300.91" y2="304.8" stroke="#1a1a1a" stroke-width="1"/>
<text x="300.91" y="313.1" text-anchor="middle">1</text>
<line x1="313.12" y1="302.4" x2="313.12" y2="304.8" stroke="#1a1a1a" stroke-width="1"/>
<text x="313.12" y="313.1" text-anchor="middle">2</text>
<line x1="325.33" y1="302.4" x2="325.33" y2="304.8" stroke="#1a1a1a" stroke-width="1"/>
<text x="325.33" y="313.1" text-anchor="middle">3</text>
<line x1="337.54" y1="302.4" x2="337.54" y2="304.8" stroke="#1a1a1a" stroke-width="1"/>
<text x="337.54" y="313.1" text-anchor="middle">4</text>
<line x1="349.75" y1="302.4" x2="349.75" y2="304.8" stroke="#1a1a1a" stroke-width="1"/>
<text x="349.75" y="313.1" text-anchor="middle">5</text>
<line x1="361.96" y1="302.4" x2="361.96" y2="304.8" stroke="#1a1a1a" stroke-width="1"/>
<text x="361.96" y="313.1" text-anchor="middle">6</text>
<line x1="374.17" y1="302.4" x2="374.17" y2="304.8" stroke="#1a1a1a" stroke-width="1"/>
<text x="374.17" y="313.1" text-anchor="middle">7</text>
<text x="332.7" y="322.8" text-anchor="middle" font-size="8.6">flipped transgene copies</text>
<text x="270.3" y="267.9" text-anchor="middle" transform="rotate(-90 270.3 267.9)">human/mouse <tspan font-style="italic">JAK2</tspan></text>
<text x="334.6" y="297.3">r</text>
<text x="337.9" y="293" font-size="7">2</text>
<text x="344.4" y="297.3">= 0.692</text>
<line x1="300.1" y1="282.4" x2="367.6" y2="247.2" stroke="#111" stroke-width="1.1"/>
<rect x="303.6" y="279" width="3.2" height="3.2" fill="#1b701b"/>
<rect x="305" y="280" width="3.2" height="3.2" fill="#1b701b"/>
<rect x="306" y="278.8" width="3.2" height="3.2" fill="#1b701b"/>
<rect x="304.4" y="280.8" width="3.2" height="3.2" fill="#1b701b"/>
<rect x="303.4" y="280.2" width="3.2" height="3.2" fill="#1b701b"/>
<rect x="306.2" y="280.4" width="3.2" height="3.2" fill="#1b701b"/>
<polygon points="314.8,264.92 318,264.92 316.4,267.8" fill="#eba861"/>
<polygon points="324.6,269.52 327.8,269.52 326.2,272.4" fill="#eba861"/>
<polygon points="355.9,254.8 358.9,254.8 357.4,257.5" fill="#eba861"/>
<polygon points="334.5,250.3 336.2,252 334.5,253.7 332.8,252" fill="#cf1420"/>
<polygon points="327.8,268.7 329.5,270.4 327.8,272.1 326.1,270.4" fill="#cf1420"/>
<polygon points="336.8,266.1 338.5,267.8 336.8,269.5 335.1,267.8" fill="#cf1420"/>
<polygon points="339.5,275.3 341.2,277 339.5,278.7 337.8,277" fill="#cf1420"/>
<polygon points="344.6,257 346.3,258.7 344.6,260.4 342.9,258.7" fill="#cf1420"/>
<polygon points="349.8,263.4 351.5,265.1 349.8,266.8 348.1,265.1" fill="#cf1420"/>
<polygon points="351.2,254.5 352.9,256.2 351.2,257.9 349.5,256.2" fill="#cf1420"/>
<polygon points="353.7,256.2 355.4,257.9 353.7,259.6 352,257.9" fill="#cf1420"/>
<polygon points="358.8,242.1 360.5,243.8 358.8,245.5 357.1,243.8" fill="#cf1420"/>
<circle cx="314.7" cy="257.2" r="1.7" fill="#7a1016"/>
<circle cx="338.5" cy="261.8" r="1.7" fill="#7a1016"/>
<circle cx="356.7" cy="247.4" r="1.7" fill="#7a1016"/>
<circle cx="363.6" cy="248.4" r="1.7" fill="#7a1016"/>
<line x1="424.4" y1="233.6" x2="424.4" y2="303" stroke="#1a1a1a" stroke-width="1.1"/>
<line x1="422.1" y1="291.4" x2="424.4" y2="291.4" stroke="#1a1a1a" stroke-width="1"/>
<text x="420" y="294.4" text-anchor="end">100</text>
<line x1="422.1" y1="272.35" x2="424.4" y2="272.35" stroke="#1a1a1a" stroke-width="1"/>
<text x="420" y="275.35" text-anchor="end">150</text>
<line x1="422.1" y1="253.3" x2="424.4" y2="253.3" stroke="#1a1a1a" stroke-width="1"/>
<text x="420" y="256.3" text-anchor="end">200</text>
<line x1="422.1" y1="234.25" x2="424.4" y2="234.25" stroke="#1a1a1a" stroke-width="1"/>
<text x="420" y="237.25" text-anchor="end">250</text>
<line x1="424.4" y1="302.4" x2="509.9" y2="302.4" stroke="#1a1a1a" stroke-width="1.2"/>
<line x1="424.3" y1="302.4" x2="424.3" y2="304.8" stroke="#1a1a1a" stroke-width="1"/>
<text x="424.3" y="313.1" text-anchor="middle">0.2</text>
<line x1="438.55" y1="302.4" x2="438.55" y2="304.8" stroke="#1a1a1a" stroke-width="1"/>
<line x1="452.8" y1="302.4" x2="452.8" y2="304.8" stroke="#1a1a1a" stroke-width="1"/>
<text x="452.8" y="313.1" text-anchor="middle">0.6</text>
<line x1="467.05" y1="302.4" x2="467.05" y2="304.8" stroke="#1a1a1a" stroke-width="1"/>
<line x1="481.3" y1="302.4" x2="481.3" y2="304.8" stroke="#1a1a1a" stroke-width="1"/>
<text x="481.3" y="313.1" text-anchor="middle">1.0</text>
<line x1="495.55" y1="302.4" x2="495.55" y2="304.8" stroke="#1a1a1a" stroke-width="1"/>
<line x1="509.8" y1="302.4" x2="509.8" y2="304.8" stroke="#1a1a1a" stroke-width="1"/>
<text x="509.8" y="313.1" text-anchor="middle">1.4</text>
<text x="432.4" y="322.6">human/mouse <tspan font-style="italic">JAK2</tspan></text>
<text x="403.2" y="266.2" text-anchor="middle" transform="rotate(-90 403.2 266.2)">hemoglobin (g/L)</text>
<text x="470.8" y="297">r</text>
<text x="474.1" y="292.7" font-size="7">2</text>
<text x="480.6" y="297">= 0.391</text>
<line x1="444.2" y1="274.4" x2="504" y2="247.2" stroke="#111" stroke-width="1.1"/>
<rect x="448.2" y="266" width="3.2" height="3.2" fill="#1b701b"/>
<rect x="451" y="266.2" width="3.2" height="3.2" fill="#1b701b"/>
<rect x="448.4" y="269" width="3.2" height="3.2" fill="#1b701b"/>
<rect x="451.2" y="269.2" width="3.2" height="3.2" fill="#1b701b"/>
<rect x="449" y="271.8" width="3.2" height="3.2" fill="#1b701b"/>
<rect x="451.8" y="271.4" width="3.2" height="3.2" fill="#1b701b"/>
<rect x="447.2" y="270.4" width="3.2" height="3.2" fill="#1b701b"/>
<polygon points="460.7,259.72 463.9,259.72 462.3,262.6" fill="#eba861"/>
<polygon points="467.4,281.52 470.6,281.52 469,284.4" fill="#eba861"/>
<polygon points="481,259.92 484.2,259.92 482.6,262.8" fill="#eba861"/>
<polygon points="468,249 469.7,250.7 468,252.4 466.3,250.7" fill="#cf1420"/>
<polygon points="471.4,252.1 473.1,253.8 471.4,255.5 469.7,253.8" fill="#cf1420"/>
<polygon points="479.3,247.5 481,249.2 479.3,250.9 477.6,249.2" fill="#cf1420"/>
<polygon points="487.8,246 489.5,247.7 487.8,249.4 486.1,247.7" fill="#cf1420"/>
<polygon points="475.4,260 477.1,261.7 475.4,263.4 473.7,261.7" fill="#cf1420"/>
<polygon points="481.2,257.8 482.9,259.5 481.2,261.2 479.5,259.5" fill="#cf1420"/>
<polygon points="456.7,265.1 458.4,266.8 456.7,268.5 455,266.8" fill="#cf1420"/>
<polygon points="464.8,269.4 466.5,271.1 464.8,272.8 463.1,271.1" fill="#cf1420"/>
<circle cx="498.3" cy="239.8" r="1.7" fill="#7a1016"/>
<circle cx="493.3" cy="251.6" r="1.7" fill="#7a1016"/>
<circle cx="481.2" cy="284.5" r="1.7" fill="#7a1016"/>
</svg>
</body></html>
